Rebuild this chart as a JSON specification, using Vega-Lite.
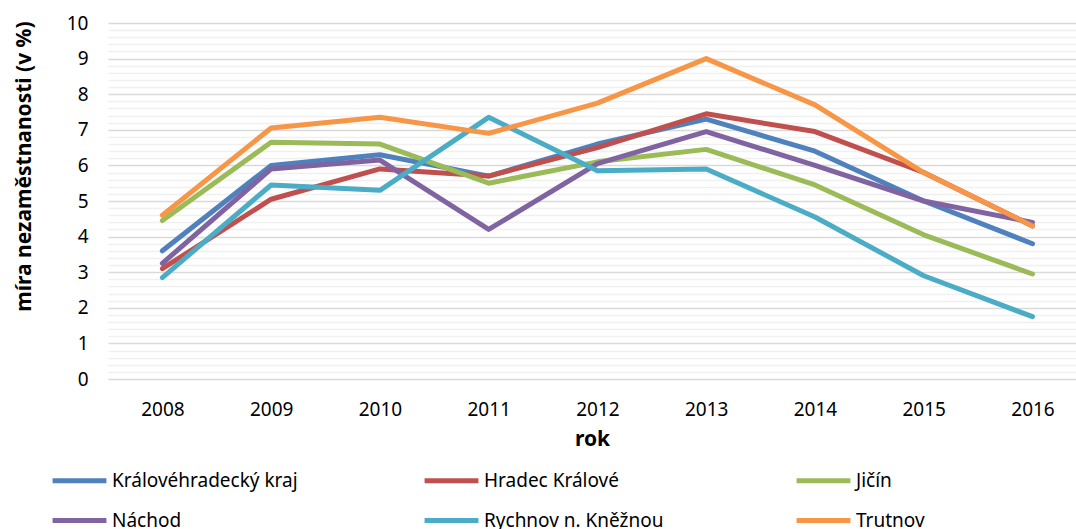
{
  "$schema": "https://vega.github.io/schema/vega-lite/v6.json",
  "width": 968,
  "height": 356,
  "autosize": {"type": "none"},
  "padding": {"left": 108, "top": 23, "right": 0, "bottom": 150},
  "background": "white",
  "config": {
    "font": "Noto Sans",
    "view": {"stroke": null}
  },
  "data": {
    "values": [
      {"rok": 2008, "oblast": "Královéhradecký kraj", "mira": 3.6},
      {"rok": 2009, "oblast": "Královéhradecký kraj", "mira": 6.0},
      {"rok": 2010, "oblast": "Královéhradecký kraj", "mira": 6.3},
      {"rok": 2011, "oblast": "Královéhradecký kraj", "mira": 5.7},
      {"rok": 2012, "oblast": "Královéhradecký kraj", "mira": 6.6},
      {"rok": 2013, "oblast": "Královéhradecký kraj", "mira": 7.3},
      {"rok": 2014, "oblast": "Královéhradecký kraj", "mira": 6.4},
      {"rok": 2015, "oblast": "Královéhradecký kraj", "mira": 5.0},
      {"rok": 2016, "oblast": "Královéhradecký kraj", "mira": 3.8},
      {"rok": 2008, "oblast": "Hradec Králové", "mira": 3.1},
      {"rok": 2009, "oblast": "Hradec Králové", "mira": 5.05},
      {"rok": 2010, "oblast": "Hradec Králové", "mira": 5.9},
      {"rok": 2011, "oblast": "Hradec Králové", "mira": 5.7},
      {"rok": 2012, "oblast": "Hradec Králové", "mira": 6.5},
      {"rok": 2013, "oblast": "Hradec Králové", "mira": 7.45},
      {"rok": 2014, "oblast": "Hradec Králové", "mira": 6.95},
      {"rok": 2015, "oblast": "Hradec Králové", "mira": 5.8},
      {"rok": 2016, "oblast": "Hradec Králové", "mira": 4.3},
      {"rok": 2008, "oblast": "Jičín", "mira": 4.45},
      {"rok": 2009, "oblast": "Jičín", "mira": 6.65},
      {"rok": 2010, "oblast": "Jičín", "mira": 6.6},
      {"rok": 2011, "oblast": "Jičín", "mira": 5.5},
      {"rok": 2012, "oblast": "Jičín", "mira": 6.1},
      {"rok": 2013, "oblast": "Jičín", "mira": 6.45},
      {"rok": 2014, "oblast": "Jičín", "mira": 5.45},
      {"rok": 2015, "oblast": "Jičín", "mira": 4.05},
      {"rok": 2016, "oblast": "Jičín", "mira": 2.95},
      {"rok": 2008, "oblast": "Náchod", "mira": 3.25},
      {"rok": 2009, "oblast": "Náchod", "mira": 5.9},
      {"rok": 2010, "oblast": "Náchod", "mira": 6.15},
      {"rok": 2011, "oblast": "Náchod", "mira": 4.2},
      {"rok": 2012, "oblast": "Náchod", "mira": 6.05},
      {"rok": 2013, "oblast": "Náchod", "mira": 6.95},
      {"rok": 2014, "oblast": "Náchod", "mira": 6.0},
      {"rok": 2015, "oblast": "Náchod", "mira": 5.0},
      {"rok": 2016, "oblast": "Náchod", "mira": 4.4},
      {"rok": 2008, "oblast": "Rychnov n. Kněžnou", "mira": 2.85},
      {"rok": 2009, "oblast": "Rychnov n. Kněžnou", "mira": 5.45},
      {"rok": 2010, "oblast": "Rychnov n. Kněžnou", "mira": 5.3},
      {"rok": 2011, "oblast": "Rychnov n. Kněžnou", "mira": 7.35},
      {"rok": 2012, "oblast": "Rychnov n. Kněžnou", "mira": 5.85},
      {"rok": 2013, "oblast": "Rychnov n. Kněžnou", "mira": 5.9},
      {"rok": 2014, "oblast": "Rychnov n. Kněžnou", "mira": 4.55},
      {"rok": 2015, "oblast": "Rychnov n. Kněžnou", "mira": 2.9},
      {"rok": 2016, "oblast": "Rychnov n. Kněžnou", "mira": 1.75},
      {"rok": 2008, "oblast": "Trutnov", "mira": 4.6},
      {"rok": 2009, "oblast": "Trutnov", "mira": 7.05},
      {"rok": 2010, "oblast": "Trutnov", "mira": 7.35},
      {"rok": 2011, "oblast": "Trutnov", "mira": 6.9},
      {"rok": 2012, "oblast": "Trutnov", "mira": 7.75},
      {"rok": 2013, "oblast": "Trutnov", "mira": 9.0},
      {"rok": 2014, "oblast": "Trutnov", "mira": 7.7},
      {"rok": 2015, "oblast": "Trutnov", "mira": 5.8},
      {"rok": 2016, "oblast": "Trutnov", "mira": 4.3}
    ]
  },
  "mark": {"type": "line", "strokeWidth": 5, "strokeCap": "round", "strokeJoin": "round"},
  "encoding": {
    "x": {
      "field": "rok",
      "type": "quantitative",
      "scale": {"domain": [2007.5, 2016.4], "nice": false, "zero": false},
      "axis": {
        "values": [2008, 2009, 2010, 2011, 2012, 2013, 2014, 2015, 2016],
        "format": "d",
        "grid": false,
        "ticks": false,
        "domain": false,
        "labelFontSize": 19,
        "labelColor": "#000000",
        "labelPadding": 21,
        "title": "rok",
        "titleFontSize": 21,
        "titleFontWeight": "bold",
        "titleColor": "#000000",
        "titlePadding": 9
      }
    },
    "y": {
      "field": "mira",
      "type": "quantitative",
      "scale": {"domain": [0, 10], "nice": false},
      "axis": {
        "values": [0, 0.2, 0.4, 0.6, 0.8, 1, 1.2, 1.4, 1.6, 1.8, 2, 2.2, 2.4, 2.6, 2.8, 3, 3.2, 3.4, 3.6, 3.8, 4, 4.2, 4.4, 4.6, 4.8, 5, 5.2, 5.4, 5.6, 5.8, 6, 6.2, 6.4, 6.6, 6.8, 7, 7.2, 7.4, 7.6, 7.8, 8, 8.2, 8.4, 8.6, 8.8, 9, 9.2, 9.4, 9.6, 9.8, 10],
        "labelExpr": "datum.value % 1 === 0 ? format(datum.value, 'd') : ''",
        "labelOverlap": false,
        "grid": true,
        "gridColor": {"condition": {"test": "datum.value % 1 === 0", "value": "#d9d9d9"}, "value": "#f0f0f0"},
        "gridWidth": 1.5,
        "ticks": false,
        "domain": false,
        "labelFontSize": 19,
        "labelColor": "#000000",
        "labelPadding": 20,
        "title": "míra nezaměstnanosti (v %)",
        "titleFontSize": 21,
        "titleFontWeight": "bold",
        "titleColor": "#000000",
        "titleAnchor": "middle",
        "titleX": -74,
        "titleY": 143
      }
    },
    "color": {
      "field": "oblast",
      "type": "nominal",
      "sort": ["Královéhradecký kraj", "Hradec Králové", "Jičín", "Náchod", "Rychnov n. Kněžnou", "Trutnov"],
      "scale": {
        "domain": ["Královéhradecký kraj", "Hradec Králové", "Jičín", "Náchod", "Rychnov n. Kněžnou", "Trutnov"],
        "range": ["#4F81BD", "#C0504D", "#9BBB59", "#8064A2", "#4BACC6", "#F79646"]
      },
      "legend": {
        "title": null,
        "orient": "none",
        "legendX": -58,
        "legendY": 428,
        "direction": "horizontal",
        "columns": 3,
        "gridAlign": "all",
        "columnPadding": 116,
        "rowPadding": -16,
        "symbolType": "stroke",
        "symbolSize": 2900,
        "symbolStrokeWidth": 5,
        "symbolOffset": 0,
        "labelFontSize": 19,
        "labelColor": "#000000",
        "labelOffset": 3,
        "labelLimit": 400
      }
    }
  }
}
